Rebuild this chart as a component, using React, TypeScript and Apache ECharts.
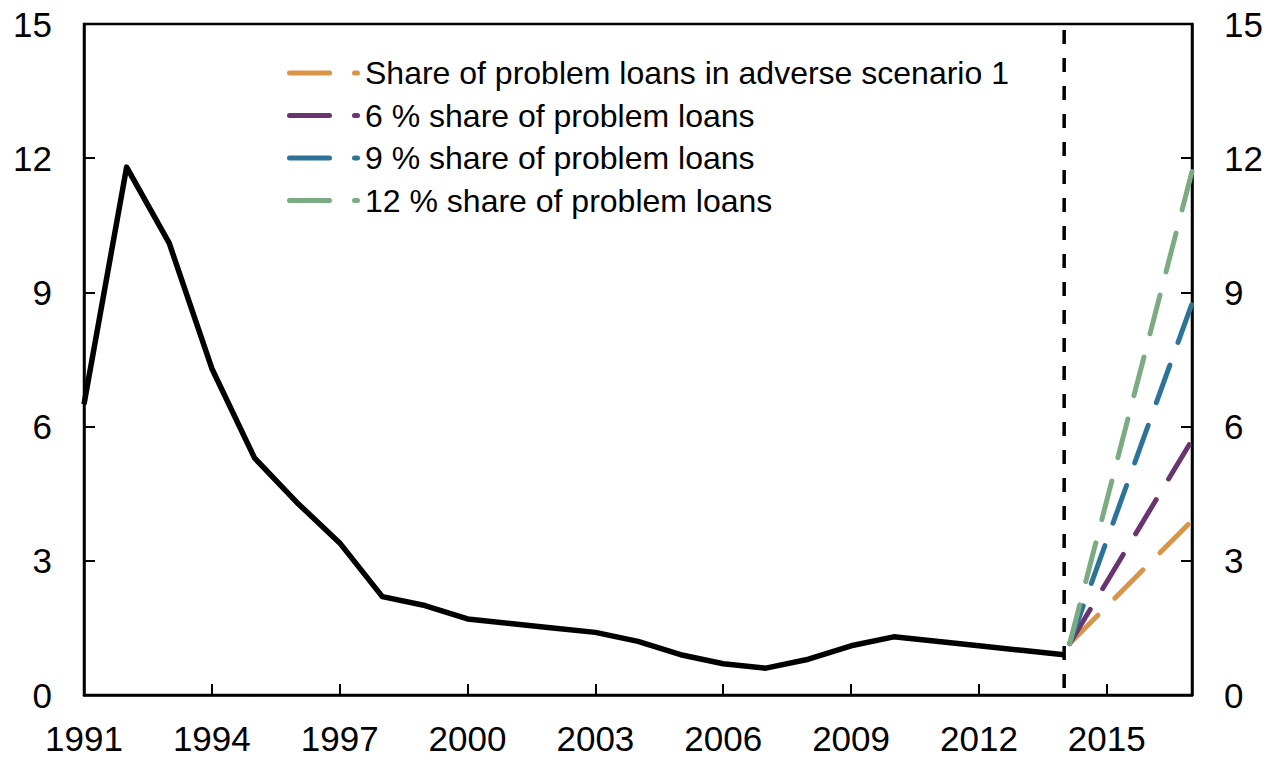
import React, { useEffect, useRef } from "react";
import * as echarts from "echarts";

const years = [1991, 1992, 1993, 1994, 1995, 1996, 1997, 1998, 1999, 2000, 2001, 2002, 2003, 2004, 2005, 2006, 2007, 2008, 2009, 2010, 2011, 2012, 2013, 2014];
const problemLoans = [6.5, 11.8, 10.1, 7.3, 5.3, 4.3, 3.4, 2.2, 2.0, 1.7, 1.6, 1.5, 1.4, 1.2, 0.9, 0.7, 0.6, 0.8, 1.1, 1.3, 1.2, 1.1, 1.0, 0.9];

const scenarioYears = [2014.13, 2017];
const adverse1 = [1.15, 3.9];
const share6 = [1.15, 5.7];
const share9 = [1.15, 8.75];
const share12 = [1.15, 11.7];

const scenarioNames = [
  "Share of problem loans in adverse scenario 1",
  "6 % share of problem loans",
  "9 % share of problem loans",
  "12 % share of problem loans",
];
const scenarioColors = ["#D99445", "#6A3470", "#2C7497", "#7BAB82"];
const scenarioValues = [adverse1, share6, share9, share12];

const forecastStart = 2014;
const xMin = 1991;
const xMax = 2017;
const xStep = 3;
const yMin = 0;
const yMax = 15;
const yStep = 3;

const FONT = "'Liberation Sans', Arial, sans-serif";
const LEGEND_ICON =
  "path://M2.5,0H42.5A2.5,2.5,0,0,1,42.5,5H2.5A2.5,2.5,0,0,1,2.5,0Z M67.5,0H70.5A2.5,2.5,0,0,1,70.5,5H67.5A2.5,2.5,0,0,1,67.5,0Z";

export default function App() {
  const ref = useRef<HTMLDivElement>(null);

  useEffect(() => {
    if (!ref.current) return;
    const chart = echarts.init(ref.current, null, { renderer: "svg" });

    const yAxisBase = (position: "left" | "right") => ({
      type: "value",
      position,
      min: yMin,
      max: yMax,
      interval: yStep,
      axisLine: { show: true, lineStyle: { color: "#000", width: 2.5 } },
      axisTick: { show: true, inside: true, length: 11, lineStyle: { color: "#000", width: 2 } },
      axisLabel: { color: "#000", fontSize: 35, fontFamily: FONT, margin: 32 },
      splitLine: { show: false },
    });

    const scenarioSeries = scenarioNames.map((name, i) => ({
      name,
      type: "line",
      data: scenarioYears.map((x, j) => [x, scenarioValues[i][j]]),
      showSymbol: false,
      symbol: "none",
      lineStyle: { color: scenarioColors[i], width: 5, type: [40, 24], cap: "round" },
      itemStyle: { color: scenarioColors[i] },
      z: 3,
    }));

    chart.setOption({
      animation: false,
      backgroundColor: "#fff",
      textStyle: { fontFamily: FONT },
      grid: {
        left: 84,
        right: 81,
        top: 24,
        bottom: 65,
        show: true,
        borderColor: "#000",
        borderWidth: 2.5,
        containLabel: false,
      },
      legend: {
        data: scenarioNames.map((name) => ({ name, icon: LEGEND_ICON })),
        orient: "vertical",
        left: 287,
        top: 57,
        padding: 0,
        itemWidth: 73,
        itemHeight: 5,
        itemGap: 10.5,
        textStyle: { color: "#000", fontSize: 32, fontFamily: FONT },
        selectedMode: false,
      },
      xAxis: {
        type: "value",
        min: xMin,
        max: xMax,
        interval: xStep,
        axisLine: { show: true, lineStyle: { color: "#000", width: 2.5 } },
        axisTick: { show: true, inside: true, length: 11, lineStyle: { color: "#000", width: 2 } },
        axisLabel: {
          color: "#000",
          fontSize: 35,
          fontFamily: FONT,
          margin: 26,
          formatter: (v: number) => ((v - xMin) % xStep === 0 ? String(v) : ""),
        },
        splitLine: { show: false },
      },
      yAxis: [yAxisBase("left"), yAxisBase("right")],
      series: [
        {
          name: "Problem loans",
          type: "line",
          data: years.map((y, i) => [y, problemLoans[i]]),
          showSymbol: false,
          symbol: "none",
          lineStyle: { color: "#000", width: 5.5, join: "round", cap: "butt" },
          z: 2,
        },
        {
          name: "Forecast start",
          type: "line",
          data: [
            [forecastStart, yMax],
            [forecastStart, yMin],
          ],
          showSymbol: false,
          symbol: "none",
          silent: true,
          lineStyle: { color: "#000", width: 3.5, type: [14, 14], dashOffset: -6 },
          z: 1,
        },
        ...scenarioSeries,
      ],
    });

    return () => chart.dispose();
  }, []);

  return (
    <div
      ref={ref}
      style={{ position: "fixed", left: 0, top: 0, width: 1273, height: 760, background: "#fff" }}
    />
  );
}
